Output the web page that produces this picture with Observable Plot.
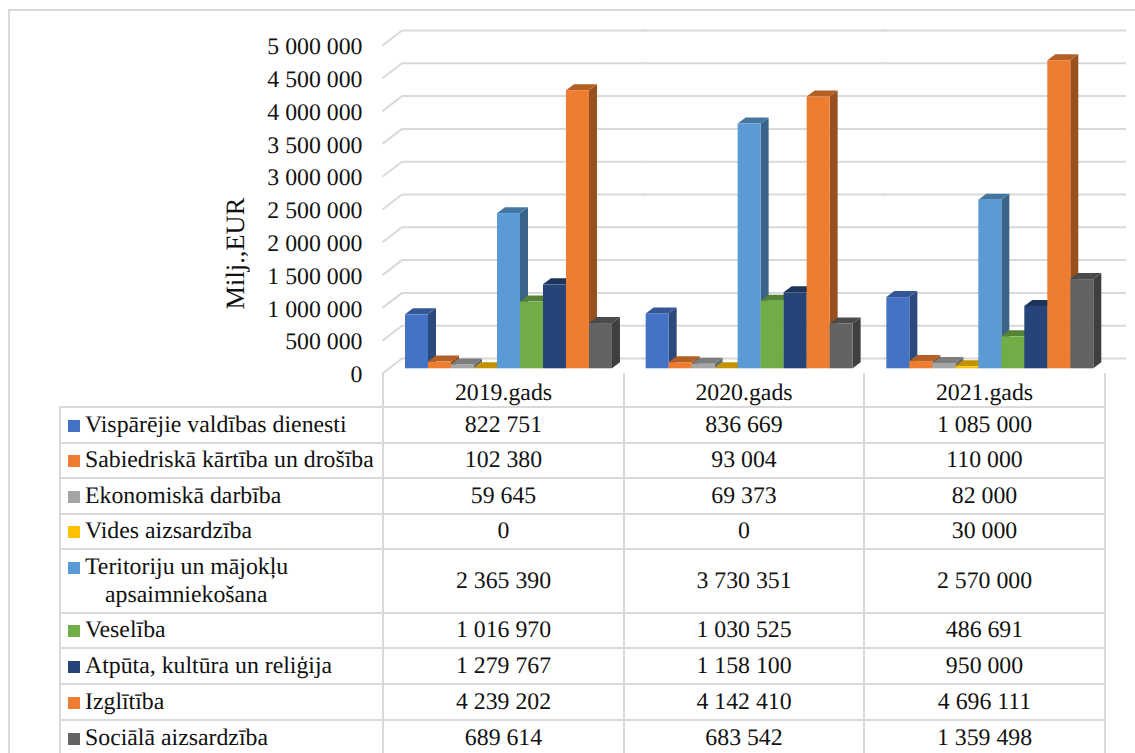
<!DOCTYPE html>
<html><head><meta charset="utf-8">
<script src="https://cdn.jsdelivr.net/npm/d3@7"></script>
<script src="https://cdn.jsdelivr.net/npm/@observablehq/plot@0.6"></script>
<style>
html,body{margin:0;padding:0;background:#fff;overflow:hidden;width:1135px;height:753px}
body{position:relative;font-family:"Liberation Serif","Times New Roman",serif;color:#111;text-rendering:geometricPrecision}
#frame{position:absolute;left:8px;top:9px;right:-5px;bottom:-5px;border:2px solid #D9D9D9;pointer-events:none}
#chart{position:absolute;left:0;top:0}
#chart svg{display:block;background:transparent}
table{position:absolute;left:59px;top:373px;border-collapse:collapse;table-layout:fixed;width:1045px;font-size:23.8px;line-height:28px}
td{border:2px solid #D9D9D9;padding:0 0 1px 0;text-align:center;vertical-align:middle;white-space:nowrap}
td.name{text-align:left;padding-left:7px}
td.blank{border-left:none;border-top:none}
tr.head td{border-top:none;padding:6px 0 0 0;line-height:26px}
i.key{display:inline-block;width:12px;height:12px;margin-right:5px;vertical-align:0}
span.wrap{display:inline-block;margin-left:37px}
</style></head>
<body>
<div id="frame"></div>
<div id="chart"></div>
<table id="tbl"></table>
<script>
const years = ["2019.gads", "2020.gads", "2021.gads"];
const categories = ["Vispārējie valdības dienesti", "Sabiedriskā kārtība un drošība", "Ekonomiskā darbība", "Vides aizsardzība", "Teritoriju un mājokļu apsaimniekošana", "Veselība", "Atpūta, kultūra un reliģija", "Izglītība", "Sociālā aizsardzība"];
const colors = ["#4472C4", "#ED7D31", "#A5A5A5", "#FFC000", "#5B9BD5", "#70AD47", "#264478", "#ED7D31", "#636363"];
const v2019 = [822751, 102380, 59645, 0, 2365390, 1016970, 1279767, 4239202, 689614];
const v2020 = [836669, 93004, 69373, 0, 3730351, 1030525, 1158100, 4142410, 683542];
const v2021 = [1085000, 110000, 82000, 30000, 2570000, 486691, 950000, 4696111, 1359498];
const yTicks = [0, 500000, 1000000, 1500000, 2000000, 2500000, 3000000, 3500000, 4000000, 4500000, 5000000];
const yLabel = "Milj.,EUR";
const rowHeights = [34, 36, 35, 36, 35, 64, 35, 36, 36, 36];

const series = [v2019, v2020, v2021];
const data = years.flatMap((year, j) => categories.map((cat, i) => ({year, cat, i, value: series[j][i]})));
const spaced = d3.formatLocale({decimal: ".", thousands: " ", grouping: [3], currency: ["", ""]}).format(",");

const depthX = 8, depthY = 6;      // bar depth
const wallX = 19, wallY = 10.3, tickDrop = 4.7;
const firstFacet = () => years[0];

function bar3d(index, scales, values, dims, context, next) {
  const g = next(index, scales, values, dims, context);
  const ns = "http://www.w3.org/2000/svg";
  const w = scales.x.bandwidth();
  const first = g.firstChild;
  const add = (pts, fill) => {
    const p = document.createElementNS(ns, "polygon");
    p.setAttribute("points", pts.map(a => a.join(",")).join(" "));
    p.setAttribute("fill", fill);
    g.insertBefore(p, first);
  };
  for (const i of index) {
    const d = data[i];
    const x = scales.x(d.cat), y1 = scales.y(d.value), y0 = scales.y(0);
    const c = d3.color(scales.color(d.cat));
    const dark = k => d3.rgb(c.r * k, c.g * k, c.b * k).formatHex();
    add([[x + w, y1], [x + w + depthX, y1 - depthY], [x + w + depthX, y0 - depthY], [x + w, y0]], dark(0.64));
  }
  for (const i of index) {
    const d = data[i];
    const x = scales.x(d.cat), y1 = scales.y(d.value);
    const c = d3.color(scales.color(d.cat));
    const dark = k => d3.rgb(c.r * k, c.g * k, c.b * k).formatHex();
    add([[x, y1], [x + depthX, y1 - depthY], [x + w + depthX, y1 - depthY], [x + w, y1]], dark(0.76));
  }
  return g;
}

function diagonals(index, scales, values, dims, context, next) {
  const g = next(index, scales, values, dims, context);
  const ns = "http://www.w3.org/2000/svg";
  for (const t of yTicks) {
    const l = document.createElementNS(ns, "line");
    const y = scales.y(t);
    l.setAttribute("x1", dims.marginLeft - 0.5);
    l.setAttribute("x2", dims.marginLeft + wallX);
    l.setAttribute("y1", y + tickDrop);
    l.setAttribute("y2", y - wallY);
    l.setAttribute("stroke", "#D9D9D9");
    l.setAttribute("stroke-opacity", 1);
    l.setAttribute("stroke-width", 2);
    g.appendChild(l);
  }
  return g;
}

const plot = Plot.plot({
  width: 1135,
  height: 373,
  marginLeft: 383,
  marginRight: 30,
  marginTop: 40,
  marginBottom: 4.7,
  style: {background: "transparent", overflow: "visible"},
  fx: {domain: years, padding: 0, round: false, axis: null},
  x: {domain: categories, padding: 0, round: false, insetLeft: 22, insetRight: 11.7, axis: null},
  y: {domain: [0, 5000000], range: [368.3, 40.3], axis: null},
  color: {domain: categories, range: colors},
  marks: [
    Plot.ruleY(yTicks, {y: d => d, dx: wallX, dy: -wallY, insetRight: -2, stroke: "#D9D9D9", strokeWidth: 2}),
    Plot.ruleY(yTicks, {y: d => d, fx: firstFacet, strokeOpacity: 0, render: diagonals}),
    Plot.axisY(yTicks, {
      anchor: "left", tickSize: 0, tickPadding: 21, dy: tickDrop + 1, label: null,
      tickFormat: spaced, fontSize: 23.8, fontFamily: "Liberation Serif", fill: "#111"
    }),
    Plot.text([yLabel], {
      fx: firstFacet, y: () => 1757000, frameAnchor: "left", dx: -148, rotate: -90, text: d => d,
      fontSize: 26.5, fontFamily: "Liberation Serif", fill: "#111", textAnchor: "middle"
    }),
    Plot.barY(data, {fx: "year", x: "cat", y: "value", fill: "cat", render: bar3d})
  ]
});
document.getElementById("chart").appendChild(plot);

// data table with legend keys
const tbl = d3.select("#tbl");
const cg = tbl.append("colgroup");
[323, 241, 240, 241].forEach(w => cg.append("col").style("width", w + "px"));
const head = tbl.append("tr").attr("class", "head").style("height", rowHeights[0] + "px");
head.append("td").attr("class", "blank");
years.forEach(y => head.append("td").text(y));
categories.forEach((cat, i) => {
  const tr = tbl.append("tr").style("height", rowHeights[i + 1] + "px");
  const td = tr.append("td").attr("class", "name");
  td.append("i").attr("class", "key").style("background", colors[i]);
  if (cat.startsWith("Teritoriju")) {
    td.append("span").text("Teritoriju un mājokļu");
    td.append("br");
    td.append("span").attr("class", "wrap").text("apsaimniekošana");
  } else {
    td.append("span").text(cat);
  }
  series.forEach(s => tr.append("td").text(spaced(s[i])));
});
</script>
</body></html>
